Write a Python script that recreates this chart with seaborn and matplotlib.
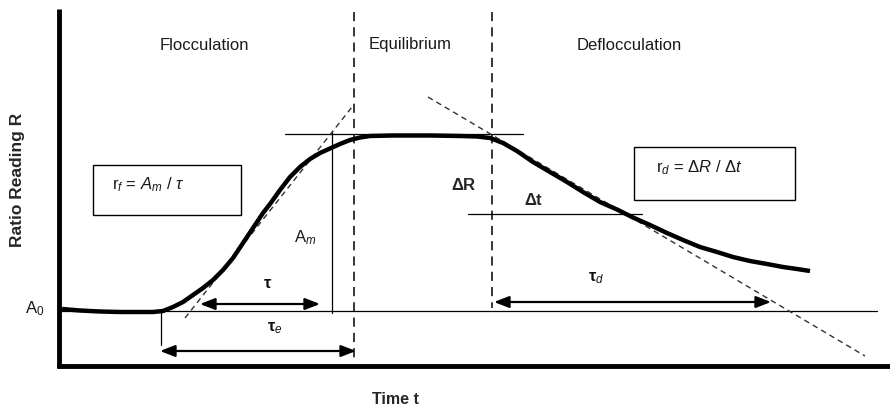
import numpy as np
import pandas as pd
import matplotlib
matplotlib.use("Agg")
import matplotlib.pyplot as plt
import seaborn as sns

# ========== DIAGRAM DATA (pixel coordinates of the sketch, y downward) ==========
# main response curve R(t)
curve_t = [62, 80, 100, 120, 140, 153, 163, 173, 183, 193, 203, 213, 223, 233, 243,
           253, 263, 270, 280, 290, 300, 310, 320, 330, 340, 350, 360, 370, 393, 430,
           460, 477, 490, 503, 517, 533, 550, 567, 583, 600, 617, 633, 650, 667, 683,
           700, 717, 733, 750, 767, 783, 797, 810]
curve_R = [309, 310.5, 311.5, 312, 312, 312, 311, 307, 302, 295, 288, 280, 270, 258, 243,
           228, 213, 204, 190, 177, 167, 159, 153, 148.5, 144, 140, 137.5, 136, 135.5, 135.5,
           136, 136.5, 138, 143, 151, 162, 172, 182, 192, 202, 209.5, 217.5, 225, 233, 240,
           247, 252, 257, 261, 264, 267, 269, 271]

# tangent lines (dashed)
floc_tan_t = [185, 352]
floc_tan_R = [318, 107]
defloc_tan_t = [428, 865]
defloc_tan_R = [97, 356]

# phase boundaries (dashed verticals)
phase_x = [354, 492]
phase_top = [12, 12]
phase_bottom = [360, 308]

A0_level = 311
Am_level = 134
Am_x = 332
dt_level = 214
te_start = 161

phase_names = ["Flocculation", "Equilibrium", "Deflocculation"]
phase_name_x = [204, 410, 629]

# spans: (start, end, y, label, label_x, label_y)
spans = [
    (200, 320, 304, r"$\mathbf{\tau}$", 268, 283),
    (160, 356, 351, r"$\mathbf{\tau}_{e}$", 275, 328),
    (494, 771, 302, r"$\mathbf{\tau}_{d}$", 596, 278),
]

# ========== FIGURE ==========
sns.set_style("white")
plt.rcParams['font.family'] = ['Liberation Sans', 'DejaVu Sans']
plt.rcParams['mathtext.fontset'] = 'custom'
plt.rcParams['mathtext.rm'] = 'Liberation Sans'
plt.rcParams['mathtext.it'] = 'Liberation Sans:italic'
plt.rcParams['mathtext.bf'] = 'Liberation Sans:bold'

fig = plt.figure(figsize=(8.9, 4.09), dpi=100)
ax = fig.add_axes([0, 0, 1, 1])

# axes of the sketch
ax.plot([59, 59], [9, 368], color='black', lw=3.5, solid_capstyle='butt')
ax.plot([57, 890], [366, 366], color='black', lw=3.5, solid_capstyle='butt')

# baseline A0 and guide lines
ax.plot([60, 877], [A0_level, A0_level], color='black', lw=0.9)
ax.plot([285, 523], [Am_level, Am_level], color='black', lw=0.9)
ax.plot([Am_x, Am_x], [Am_level - 2, A0_level + 2], color='black', lw=0.9)
ax.plot([468, 642], [dt_level, dt_level], color='black', lw=0.9)
ax.plot([te_start, te_start], [A0_level, 345], color='black', lw=0.9)

# phase boundaries
for x, y0, y1 in zip(phase_x, phase_top, phase_bottom):
    ax.plot([x, x], [y0, y1], color='black', lw=1.1, ls=(0, (6, 4)))

# tangents
tan_df = pd.DataFrame({'t': floc_tan_t + defloc_tan_t,
                       'R': floc_tan_R + defloc_tan_R,
                       'which': ['floc'] * 2 + ['defloc'] * 2})
for name, g in tan_df.groupby('which'):
    ax.plot(g['t'], g['R'], color='#333333', lw=1.0, ls=(0, (4, 3)))

# main curve
curve_df = pd.DataFrame({'t': curve_t, 'R': curve_R})
sns.lineplot(data=curve_df, x='t', y='R', sort=False, color='black', lw=3.2, ax=ax,
             solid_joinstyle='round', solid_capstyle='butt')

# span arrows
for x0, x1, y, lab, lx, ly in spans:
    ax.annotate('', xy=(x1, y), xytext=(x0, y),
                arrowprops=dict(arrowstyle='<|-|>,head_length=0.9,head_width=0.35',
                                color='black', lw=1.6, shrinkA=0, shrinkB=0))
    ax.text(lx, ly, lab, fontsize=12, ha='center', va='center', color='#111111')

# phase names
for name, x in zip(phase_names, phase_name_x):
    ax.text(x, 45, name, fontsize=12, ha='center', va='center', color='#1a1a1a')

# rate boxes
ax.add_patch(plt.Rectangle((93, 165), 148, 50, fill=False, ec='black', lw=1.0))
ax.text(112, 185, r"r$_{f}$ = $\it{A}_{m}$ / $\it{\tau}$", fontsize=12,
        ha='left', va='center', color='#1a1a1a')
ax.add_patch(plt.Rectangle((634, 147), 161, 53, fill=False, ec='black', lw=1.0))
ax.text(656, 168, r"r$_{d}$ = $\Delta\it{R}$ / $\Delta\it{t}$", fontsize=12,
        ha='left', va='center', color='#1a1a1a')

# other labels
ax.text(464, 185, r"$\mathbf{\Delta R}$", fontsize=12, ha='center', va='center')
ax.text(534, 200, r"$\mathbf{\Delta t}$", fontsize=12, ha='center', va='center')
ax.text(305, 238, r"A$_{m}$", fontsize=12, ha='center', va='center', color='#1a1a1a')
ax.text(35, 309, r"A$_{0}$", fontsize=12, ha='center', va='center', color='#1a1a1a')

ax.text(18, 180, "Ratio Reading R", fontsize=12.5, fontweight='bold',
        rotation=90, ha='center', va='center')
ax.text(395, 399, "Time t", fontsize=11.5, fontweight='bold', ha='center', va='center')

ax.set_xlim(0, 890)
ax.set_ylim(409, 0)
ax.axis('off')

fig.savefig('out.png', dpi=100)
